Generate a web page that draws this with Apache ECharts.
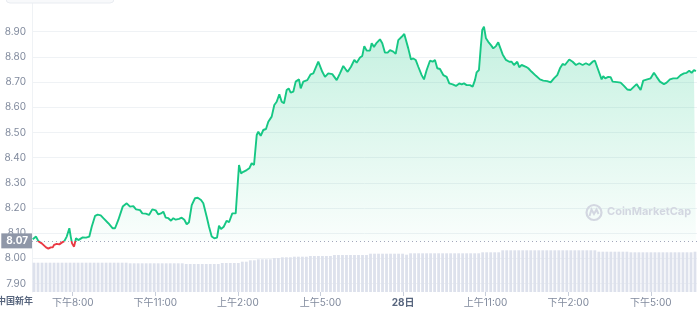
<!DOCTYPE html>
<html><head><meta charset="utf-8">
<script src="https://cdn.jsdelivr.net/npm/echarts@6/dist/echarts.min.js"></script>
<style>html,body{margin:0;padding:0;background:#fff}#c{width:700px;height:312px}</style>
</head><body><div id="c"></div>
<script>
const hours = [
18.547,18.667,18.750,18.874,19.030,19.114,19.201,19.274,19.321,19.419,19.513,19.600,19.695,19.782,19.877,19.927,19.975,20.047,20.120,20.203,
20.265,20.363,20.483,20.603,20.690,20.810,20.908,21.017,21.112,21.293,21.453,21.537,21.656,21.816,21.961,22.081,22.201,22.299,22.361,22.445,
22.528,22.652,22.772,22.891,23.015,23.109,23.207,23.291,23.378,23.473,23.571,23.654,23.741,23.861,23.959,24.054,24.141,24.224,24.323,24.442,
24.541,24.660,24.744,24.867,24.951,25.049,25.143,25.242,25.314,25.387,25.485,25.594,25.678,25.797,25.921,25.993,26.041,26.113,26.197,26.320,
26.415,26.502,26.586,26.684,26.742,26.829,26.923,27.021,27.105,27.228,27.323,27.410,27.505,27.592,27.675,27.773,27.846,27.919,28.013,28.100,
28.220,28.282,28.376,28.522,28.645,28.740,28.921,29.067,29.165,29.284,29.430,29.590,29.709,29.829,29.916,29.989,30.109,30.229,30.316,30.436,
30.519,30.592,30.679,30.799,30.861,30.944,31.042,31.162,31.246,31.344,31.442,31.526,31.646,31.733,31.828,31.951,32.045,32.107,32.190,32.289,
32.372,32.459,32.554,32.677,32.761,32.859,32.979,33.077,33.160,33.244,33.342,33.462,33.585,33.680,33.803,33.923,34.043,34.130,34.214,34.312,
34.432,34.529,34.613,34.675,34.758,34.820,34.878,34.940,35.013,35.096,35.194,35.278,35.376,35.459,35.521,35.619,35.739,35.859,35.946,36.030,
36.150,36.222,36.310,36.466,36.550,36.673,36.829,36.975,37.094,37.239,37.363,37.483,37.603,37.701,37.799,37.882,38.038,38.162,38.282,38.402,
38.525,38.645,38.765,38.888,38.972,39.092,39.215,39.273,39.346,39.455,39.542,39.615,39.782,39.906,40.026,40.145,40.269,40.363,40.487,40.545,
40.632,40.727,40.872,40.996,41.116,41.214,41.334,41.479,41.576,41.696,41.816,41.962,42.085,42.205,42.303,42.397,42.484,42.568,42.640
];
const prices = [
8.076,8.087,8.069,8.060,8.044,8.039,8.044,8.044,8.054,8.058,8.056,8.063,8.069,8.087,8.120,8.087,8.060,8.047,8.080,8.073,
8.080,8.084,8.083,8.087,8.126,8.169,8.174,8.171,8.160,8.140,8.120,8.120,8.153,8.206,8.219,8.206,8.208,8.195,8.188,8.192,
8.179,8.178,8.173,8.195,8.191,8.175,8.179,8.186,8.162,8.160,8.150,8.160,8.154,8.157,8.162,8.154,8.136,8.144,8.212,8.239,
8.241,8.232,8.219,8.166,8.126,8.087,8.080,8.083,8.130,8.117,8.126,8.150,8.144,8.179,8.179,8.186,8.371,8.338,8.344,8.351,
8.358,8.378,8.371,8.490,8.503,8.487,8.510,8.514,8.543,8.563,8.609,8.622,8.652,8.622,8.616,8.669,8.675,8.658,8.662,8.702,
8.711,8.675,8.702,8.708,8.731,8.735,8.781,8.741,8.721,8.735,8.732,8.708,8.735,8.764,8.751,8.741,8.761,8.788,8.777,8.798,
8.804,8.843,8.825,8.825,8.854,8.840,8.856,8.870,8.854,8.817,8.817,8.827,8.821,8.812,8.867,8.880,8.891,8.887,8.834,8.790,
8.794,8.788,8.761,8.728,8.711,8.748,8.785,8.781,8.788,8.755,8.752,8.728,8.721,8.695,8.691,8.685,8.695,8.691,8.695,8.688,
8.688,8.682,8.708,8.739,8.748,8.834,8.907,8.920,8.874,8.860,8.847,8.834,8.843,8.858,8.858,8.810,8.788,8.781,8.781,8.768,
8.781,8.759,8.768,8.761,8.755,8.741,8.725,8.711,8.706,8.704,8.699,8.715,8.728,8.755,8.772,8.768,8.790,8.781,8.768,8.775,
8.768,8.775,8.768,8.781,8.785,8.748,8.711,8.724,8.715,8.721,8.720,8.702,8.700,8.698,8.685,8.671,8.669,8.679,8.692,8.685,
8.669,8.706,8.711,8.715,8.737,8.721,8.702,8.692,8.698,8.711,8.715,8.715,8.728,8.735,8.737,8.745,8.737,8.748,8.744
];
const openPrice = 8.07;
const volumes = [
29.3,29.3,29.3,29.3,29.3,29.3,29.3,29.3,29.3,29.3,29.3,29.3,29.3,29.3,29.3,29.3,29.3,29.3,29.3,29.3,29.3,29.3,29.3,29.3,
28.7,28.7,28.7,28.7,28.7,28.7,28.7,28.7,28.7,28.7,28.7,28.7,28.7,28.7,
28.0,28.0,28.0,28.0,28.0,28.0,28.0,28.0,28.0,
29.0,29.0,29.0,29.0,29.0,
30.3,30.3,31.7,31.7,32.7,32.7,32.7,32.7,34.0,34.0,34.7,34.7,34.7,
35.3,35.3,35.3,35.3,36.0,36.0,36.0,36.0,36.0,36.0,
37.0,37.0,37.0,37.0,37.0,37.0,37.0,37.0,37.0,
38.3,38.3,38.3,38.3,38.3,38.3,38.3,38.3,38.3,37.3,
38.7,38.7,38.7,38.7,38.7,38.7,38.7,38.7,38.7,38.7,38.7,38.7,38.7,38.7,38.7,38.7,38.7,38.7,
39.7,39.7,39.7,39.7,39.7,
41.7,41.7,41.7,41.7,41.7,41.7,41.7,41.7,41.7,41.7,41.7,41.7,41.7,41.7,41.7,41.7,41.7,41.7,41.7,41.7,41.7,41.7,41.7,41.7,
40.3,40.3,40.3,40.3,40.3,40.3,40.3,40.3,
39.7,39.7,39.7,39.7,39.7,39.7,39.7,39.7,39.7,39.7,39.7,39.7,39.7,39.7,39.7,39.7,40.3
];
const priceTicks = [7.9, 8.0, 8.1, 8.2, 8.3, 8.4, 8.5, 8.6, 8.7, 8.8, 8.9];
const timeTicks = [20, 23, 26, 29, 32, 35, 38, 41];
const timeLabels = ['下午8:00', '下午11:00', '上午2:00', '上午5:00', '28日', '上午11:00', '下午2:00', '下午5:00'];
const leftLabel = '中国新年';
const watermark = 'CoinMarketCap';

const GREEN = '#16c784', RED = '#ea3943';
const FONT = "Inter, 'Noto Sans CJK SC', sans-serif";
const chart = echarts.init(document.getElementById('c'), null, {renderer: 'canvas'});
const lineData = hours.map((h, i) => [h, prices[i]]);

function buildOption(lineColor) {
  return {
    animation: false,
    backgroundColor: '#ffffff',
    grid: [
      {left: 32, right: 3, top: 0, bottom: 20},
      {left: 32, right: 3, top: 250, bottom: 20}
    ],
    xAxis: [
      {
        type: 'value', gridIndex: 0, min: 18.52, max: 42.68,
        axisLine: {show: false},
        axisTick: {show: true, customValues: timeTicks, length: 4, lineStyle: {color: '#c8ceda'}},
        axisLabel: {
          customValues: timeTicks, margin: 6, fontSize: 10, color: '#808a9d', fontFamily: FONT,
          formatter: v => {
            const i = timeTicks.indexOf(v);
            const s = i >= 0 ? timeLabels[i] : '';
            return s === '28日' ? '{b|' + s + '}' : s;
          },
          rich: {b: {fontSize: 10, fontWeight: 'bold', color: '#58667e', fontFamily: FONT}}
        },
        splitLine: {show: false}
      },
      {type: 'category', gridIndex: 1, data: volumes.map((_, i) => i), show: false, boundaryGap: true}
    ],
    yAxis: [
      {
        type: 'value', gridIndex: 0, min: 7.867, max: 9.026,
        axisLine: {show: true, lineStyle: {color: '#eff2f5'}},
        axisTick: {show: false, customValues: priceTicks},
        axisLabel: {customValues: priceTicks, formatter: v => v.toFixed(2), fontSize: 10, color: '#808a9d', margin: 6, fontFamily: FONT},
        splitLine: {show: true, lineStyle: {color: '#eff2f5', width: 1}}
      },
      {type: 'value', gridIndex: 1, min: 0, max: 42, show: false, splitLine: {show: false}}
    ],
    series: [
      {
        type: 'line', xAxisIndex: 0, yAxisIndex: 0, data: lineData, showSymbol: false, smooth: false,
        lineStyle: {width: 1.9, color: lineColor},
        itemStyle: {color: GREEN},
        areaStyle: {
          origin: openPrice,
          color: new echarts.graphic.LinearGradient(0, 0, 0, 1, [
            {offset: 0, color: 'rgba(22,199,132,0.36)'},
            {offset: 1, color: 'rgba(22,199,132,0.02)'}
          ])
        },
        markLine: {
          silent: true, symbol: ['none', 'none'],
          lineStyle: {type: [1, 3], color: '#a1a7bb', width: 1},
          label: {
            show: true, position: 'start', distance: 0, formatter: openPrice.toFixed(2),
            backgroundColor: '#8f97a8', color: '#fff', fontWeight: 'bold', fontSize: 10,
            padding: [3, 4, 2, 5], fontFamily: FONT
          },
          data: [{yAxis: openPrice}]
        },
        z: 3
      },
      {
        type: 'bar', xAxisIndex: 1, yAxisIndex: 1, data: volumes,
        barCategoryGap: '30%', itemStyle: {color: '#dde1ec'}, z: 2
      }
    ],
    graphic: [
      {type: 'rect', shape: {x: 6, y: -10, width: 108, height: 13, r: 4}, style: {fill: '#f8f9fb', stroke: '#e9ecf1', lineWidth: 1}, z: 10},
      {type: 'text', left: -3, top: 296, style: {text: leftLabel, fill: '#58667e', font: "bold 9px 'Noto Sans CJK SC'"}},
      {type: 'circle', shape: {cx: 594, cy: 212.5, r: 7.5}, style: {fill: 'none', stroke: '#d3d7e1', lineWidth: 2.2}, z: 10},
      {type: 'polyline', shape: {points: [[589.5, 216], [591.5, 209.5], [594, 214], [596.5, 209.5], [598.5, 214]]}, style: {fill: 'none', stroke: '#d3d7e1', lineWidth: 2}, z: 10},
      {type: 'text', x: 607, y: 206.5, style: {text: watermark, fill: '#d3d7e1', font: "bold 11px Inter, sans-serif"}, z: 10}
    ]
  };
}

try {
  chart.setOption(buildOption(GREEN));
  const yb = chart.convertToPixel({yAxisIndex: 0}, openPrice);
  const h = chart.getHeight();
  const f = Math.min(Math.max(yb / h, 0), 1);
  const grad = new echarts.graphic.LinearGradient(0, 0, 0, h, [
    {offset: 0, color: GREEN}, {offset: f, color: GREEN},
    {offset: f, color: RED}, {offset: 1, color: RED}
  ], true);
  chart.setOption({series: [{lineStyle: {color: grad}}]});
} catch (e) {
  console.error(e);
}
</script>
</body></html>
